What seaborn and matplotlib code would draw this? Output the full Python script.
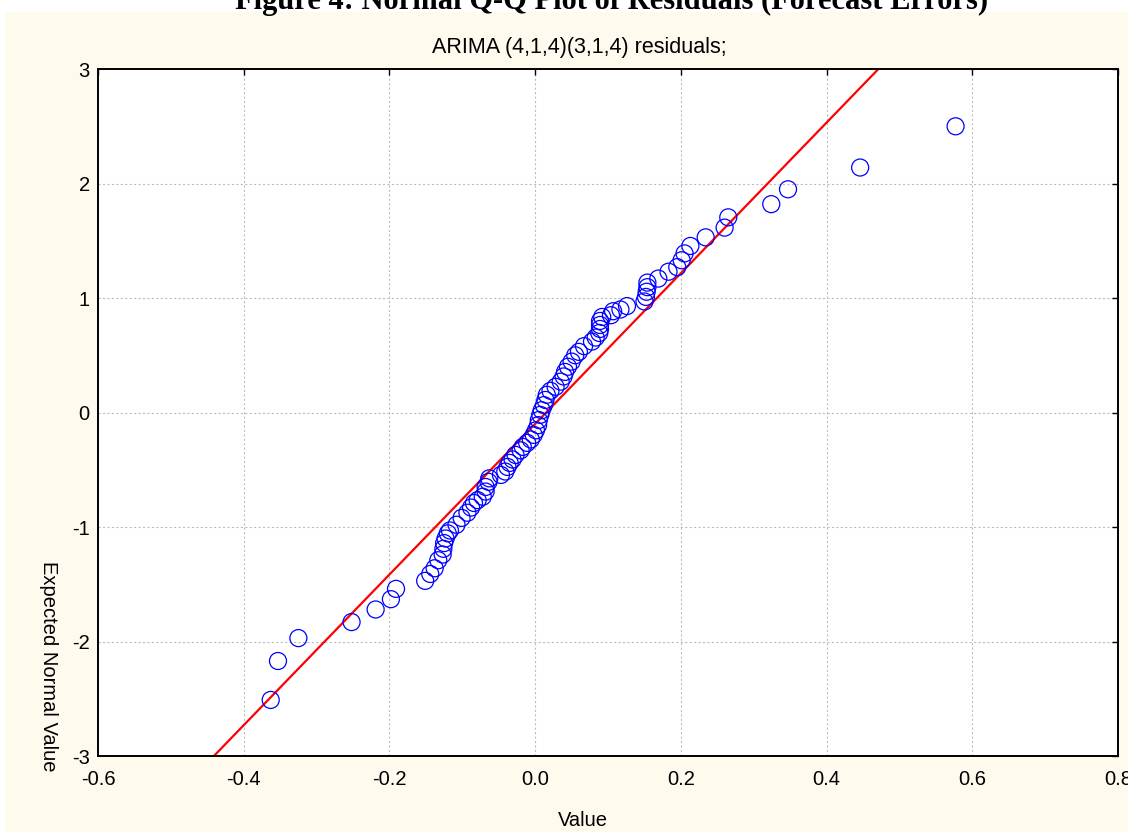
import matplotlib
matplotlib.use("Agg")
import matplotlib.pyplot as plt
from matplotlib.patches import Rectangle
import seaborn as sns
import pandas as pd

# residual values (x) and expected normal values (y)
residuals = [
    -0.363, -0.353, -0.325, -0.252, -0.219, -0.198, -0.191, -0.151, -0.144, -0.138,
    -0.133, -0.127, -0.126, -0.125, -0.123, -0.120, -0.117, -0.108, -0.101, -0.093,
    -0.088, -0.084, -0.079, -0.072, -0.068, -0.068, -0.064, -0.063, -0.047, -0.041,
    -0.038, -0.035, -0.031, -0.027, -0.020, -0.017, -0.011, -0.006, -0.002, 0.001,
    0.004, 0.005, 0.007, 0.009, 0.012, 0.014, 0.016, 0.021, 0.028, 0.035,
    0.039, 0.041, 0.045, 0.050, 0.055, 0.060, 0.067, 0.078, 0.083, 0.088,
    0.089, 0.089, 0.089, 0.092, 0.104, 0.107, 0.117, 0.126, 0.150, 0.152,
    0.153, 0.154, 0.154, 0.169, 0.183, 0.195, 0.201, 0.205, 0.213, 0.234,
    0.260, 0.265, 0.324, 0.347, 0.446, 0.577,
]
expected_normal = [
    -2.51, -2.17, -1.97, -1.83, -1.72, -1.63, -1.54, -1.47, -1.41, -1.36,
    -1.29, -1.24, -1.19, -1.14, -1.10, -1.055, -1.03, -0.98, -0.92, -0.875,
    -0.83, -0.79, -0.765, -0.735, -0.69, -0.65, -0.605, -0.575, -0.545, -0.515,
    -0.475, -0.44, -0.41, -0.37, -0.33, -0.30, -0.265, -0.235, -0.195, -0.155,
    -0.11, -0.065, -0.02, 0.02, 0.065, 0.11, 0.155, 0.19, 0.225, 0.27,
    0.315, 0.355, 0.40, 0.445, 0.50, 0.53, 0.58, 0.62, 0.655, 0.695,
    0.73, 0.765, 0.80, 0.835, 0.85, 0.885, 0.90, 0.93, 0.97, 1.01,
    1.055, 1.095, 1.135, 1.17, 1.23, 1.27, 1.33, 1.39, 1.455, 1.53,
    1.615, 1.705, 1.82, 1.95, 2.14, 2.50,
]

# reference line end points
ref_x = [-0.441, 0.471]
ref_y = [-3.0, 3.0]

x_ticks = [-0.6, -0.4, -0.2, 0.0, 0.2, 0.4, 0.6, 0.8]
y_ticks = [-3, -2, -1, 0, 1, 2, 3]

df = pd.DataFrame({"Value": residuals, "Expected": expected_normal})

sns.set_style("white")
plt.rcParams["font.family"] = ["Liberation Sans", "DejaVu Sans"]
plt.rcParams["text.color"] = "black"
plt.rcParams["axes.labelcolor"] = "black"

fig = plt.figure(figsize=(11.28, 8.32), dpi=100)
fig.patch.set_facecolor("white")
fig.patches.append(Rectangle((5 / 1128, 0), 1, 1 - 12 / 832, transform=fig.transFigure,
                             facecolor="#FFFAEE", edgecolor="none", zorder=-10))

ax = fig.add_axes([0.0869, 0.0913, 0.9043, 0.8257])
ax.set_facecolor("white")

sns.lineplot(x=ref_x, y=ref_y, color="red", linewidth=1.6, ax=ax, zorder=2)
sns.scatterplot(data=df, x="Value", y="Expected", marker="o", s=150,
                facecolor="none", edgecolor="blue", linewidth=0.9, ax=ax, zorder=3)

ax.set_xlim(-0.6, 0.8)
ax.set_ylim(-3, 3)
ax.set_xticks(x_ticks)
ax.set_xticklabels(["{:.1f}".format(v) for v in x_ticks])
ax.set_yticks(y_ticks)
ax.set_yticklabels([str(v) for v in y_ticks])
ax.tick_params(direction="in", length=4, width=1, labelsize=14.5, colors="black",
               top=True, right=True)
ax.tick_params(axis="x", pad=10)
ax.tick_params(axis="y", pad=6)
ax.grid(True, color="#BDBDBD", linestyle=(0, (2, 2)), linewidth=0.8)
for s in ax.spines.values():
    s.set_color("black")
    s.set_linewidth(1.4)

ax.set_xlabel("Value", fontsize=14.5, color="black")
ax.set_ylabel("Expected Normal Value", fontsize=14.5, rotation=270, color="black")
ax.xaxis.set_label_coords(0.475, -0.08)
ax.yaxis.set_label_coords(-0.058, 0.13)

fig.text(612 / 1128, 1 - 9 / 832, "Figure 4: Normal Q-Q Plot of Residuals (Forecast Errors)",
         ha="center", va="baseline", fontsize=22, fontweight="bold", color="black",
         family=["Liberation Serif", "DejaVu Serif"])
fig.text(579 / 1128, 1 - 47 / 832, "ARIMA (4,1,4)(3,1,4) residuals;",
         ha="center", va="center", fontsize=15.5, color="black")

fig.savefig("out.png", dpi=100)
